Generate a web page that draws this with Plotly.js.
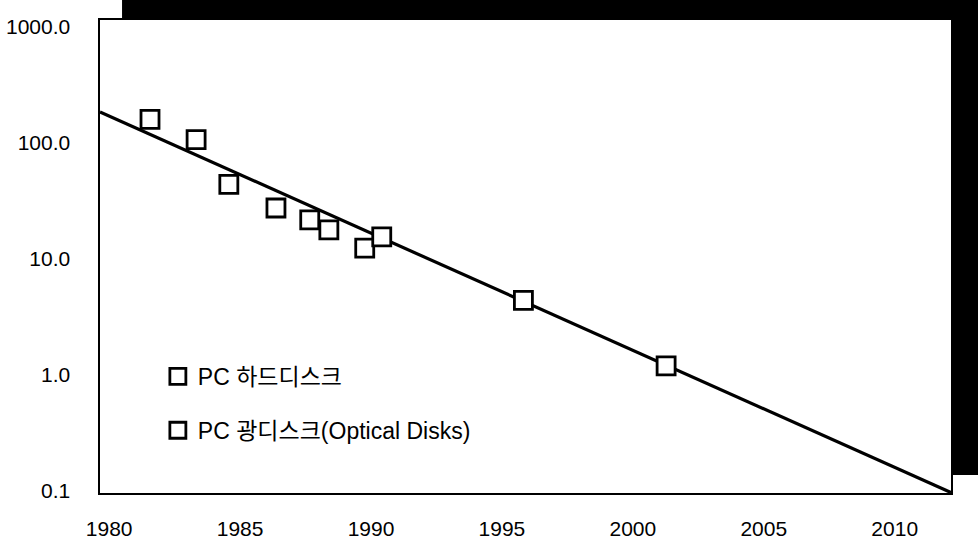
<!DOCTYPE html>
<html>
<head>
<meta charset="utf-8">
<script src="https://cdn.plot.ly/plotly-3.0.1.min.js"></script>
<style>
  html, body { margin: 0; padding: 0; background: #ffffff; }
  #chart { width: 978px; height: 546px; }
</style>
</head>
<body>
<div id="chart"></div>
<script>
// Series
const hardYears = [1981.56, 1983.32, 1984.57, 1986.37, 1987.66, 1988.39, 1989.76];
const hardCost = [160, 107, 44, 27.5, 21.7, 17.8, 12.4];
const opticalYears = [1990.41, 1995.82, 2001.27];
const opticalCost = [15.5, 4.4, 1.2];
const trendYears = [1979.65, 2012.15];
const trendCost = [185, 0.097];

const hardName = 'PC 하드디스크';
const opticalName = 'PC 광디스크(Optical Disks)';

const xTickVals = [1980, 1985, 1990, 1995, 2000, 2005, 2010];
const xTickText = ['1980', '1985', '1990', '1995', '2000', '2005', '2010'];
const yTickVals = [0.1, 1, 10, 100, 1000];
const yTickText = ['0.1', '1.0', '10.0', '100.0', '1000.0'];

const FONT = 'Liberation Sans, Arial, Noto Sans CJK KR, sans-serif';
const LEGEND_FONT = 'Liberation Sans, Noto Sans CJK KR, sans-serif';

const markerStyle = {
  symbol: 'square',
  size: 18,
  color: '#ffffff',
  line: { color: '#000000', width: 2.8 }
};

const traces = [
  {
    x: trendYears, y: trendCost,
    mode: 'lines', type: 'scatter',
    line: { color: '#000000', width: 3.2 },
    showlegend: false, hoverinfo: 'skip'
  },
  {
    x: hardYears, y: hardCost,
    mode: 'markers', type: 'scatter',
    name: hardName, legendgroup: 'a',
    marker: markerStyle
  },
  {
    x: opticalYears, y: opticalCost,
    mode: 'markers', type: 'scatter',
    name: opticalName, legendgroup: 'b',
    marker: markerStyle
  }
];

const layout = {
  width: 978, height: 546,
  margin: { l: 100, r: 27, t: 20, b: 53 },
  paper_bgcolor: '#ffffff',
  plot_bgcolor: '#ffffff',
  font: { family: FONT, color: '#000000', size: 21 },
  showlegend: true,
  legend: {
    x: 0.068, xanchor: 'left',
    y: 0.292, yanchor: 'top',
    xref: 'paper', yref: 'paper',
    bgcolor: 'rgba(0,0,0,0)',
    borderwidth: 0,
    traceorder: 'grouped',
    tracegroupgap: 21,
    font: { family: LEGEND_FONT, size: 23, color: '#000000' }
  },
  xaxis: {
    type: 'linear',
    range: [1979.65, 2012.15],
    tickmode: 'array', tickvals: xTickVals, ticktext: xTickText,
    ticks: '', showgrid: false, zeroline: false,
    showline: true, linecolor: '#000000', linewidth: 2, mirror: true,
    ticklabelstandoff: 16,
    tickfont: { family: FONT, size: 21, color: '#000000' }
  },
  yaxis: {
    type: 'log',
    range: [-1.017, 3.06],
    tickmode: 'array', tickvals: yTickVals, ticktext: yTickText,
    ticks: '', showgrid: false, zeroline: false,
    showline: true, linecolor: '#000000', linewidth: 1.6, mirror: true,
    ticklabelstandoff: 24,
    tickfont: { family: FONT, size: 21, color: '#000000' }
  },
  shapes: [
    { type: 'rect', xref: 'paper', yref: 'paper', x0: 0.0259, x1: 1.04, y0: 1.0021, y1: 1.05,
      fillcolor: '#000000', line: { width: 0 }, layer: 'above' },
    { type: 'rect', xref: 'paper', yref: 'paper', x0: 1.0, x1: 1.04, y0: 0.038, y1: 1.05,
      fillcolor: '#000000', line: { width: 0 }, layer: 'above' }
  ]
};

Plotly.newPlot('chart', traces, layout, { staticPlot: true, displayModeBar: false });
</script>
</body>
</html>
